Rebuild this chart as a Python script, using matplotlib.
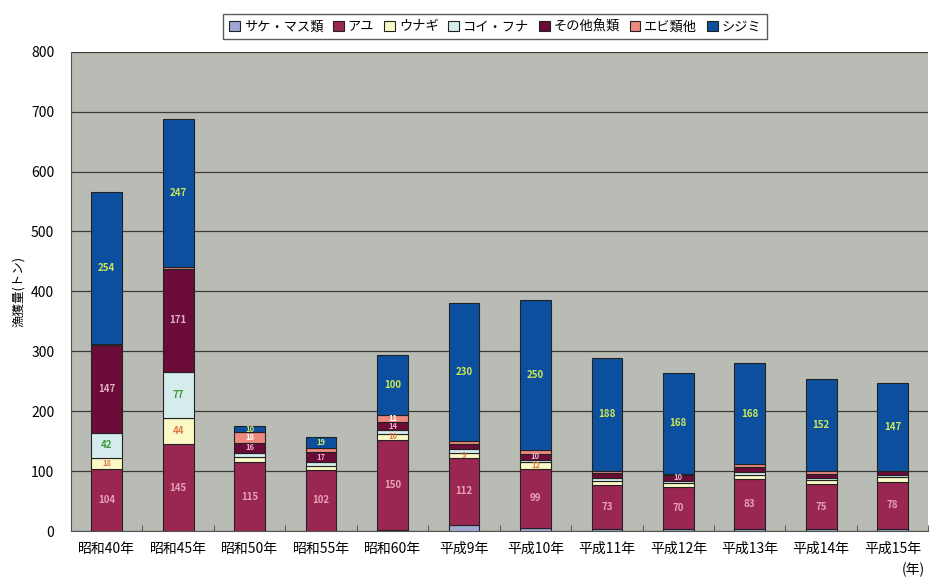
import numpy as np
import matplotlib
matplotlib.use("Agg")
import matplotlib.pyplot as plt

plt.rcParams['font.family'] = ['Noto Sans CJK JP', 'DejaVu Sans']

years = ['昭和40年', '昭和45年', '昭和50年', '昭和55年', '昭和60年', '平成9年',
         '平成10年', '平成11年', '平成12年', '平成13年', '平成14年', '平成15年']

sake = [0, 0, 0, 0, 2, 10, 5, 4, 3, 4, 3, 4]
ayu = [104, 145, 115, 102, 150, 112, 99, 73, 70, 83, 75, 78]
unagi = [18, 44, 8, 7, 10, 9, 12, 7, 8, 7, 7, 8]
koi = [42, 77, 8, 6, 6, 6, 3, 5, 3, 5, 4, 4]
sonota = [147, 171, 16, 17, 14, 8, 10, 8, 10, 8, 7, 6]
ebi = [1, 4, 18, 6, 11, 6, 6, 4, 2, 5, 5, 0]
shijimi = [254, 247, 10, 19, 100, 230, 250, 188, 168, 168, 152, 147]

names = ['サケ・マス類', 'アユ', 'ウナギ', 'コイ・フナ', 'その他魚類', 'エビ類他', 'シジミ']
series = [sake, ayu, unagi, koi, sonota, ebi, shijimi]
colors = ['#9ea8d2', '#9a2752', '#fbf9c6', '#d5ecec', '#6a0b38', '#ec8a80', '#0c4f9e']
label_colors = [None, '#e8a0b8', '#e07848', '#3f9a3a', '#e4b0c8', '#ffffff', '#cde85a']


def plot_chart():
    fig = plt.figure(figsize=(9.34, 5.81), dpi=100)
    ax = fig.add_axes([0.076, 0.086, 0.918, 0.825])
    ax.set_facecolor('#b9bcb5')

    x = np.arange(len(years))
    bottom = np.zeros(len(years))
    for name, vals, col, lc in zip(names, series, colors, label_colors):
        vals = np.array(vals, dtype=float)
        ax.bar(x, vals, 0.43, bottom=bottom, color=col, edgecolor='#222222',
               linewidth=0.8, label=name, zorder=3)
        if lc is not None:
            for xi, b, v in zip(x, bottom, vals):
                if v >= 9:
                    fs = 7 if v >= 20 else 5.5
                    ax.text(xi, b + v / 2, '%d' % v, ha='center', va='center',
                            fontsize=fs, color=lc, fontweight='bold', zorder=4)
        bottom += vals

    ax.set_xlim(-0.5, len(years) - 0.5)
    ax.set_ylim(0, 800)
    ax.set_yticks(range(0, 801, 100))
    ax.yaxis.grid(True, color='#3a3a3a', linewidth=0.9, zorder=1)
    ax.set_xticks(x)
    ax.set_xticklabels(years, fontsize=10)
    ax.set_xticks(np.arange(-0.5, len(years)), minor=True)
    ax.tick_params(axis='x', which='major', length=0, pad=8)
    ax.tick_params(axis='x', which='minor', length=4, direction='in', color='#444444')
    ax.tick_params(axis='y', length=0, labelsize=10, pad=12)
    for s in ['top', 'right']:
        ax.spines[s].set_visible(False)
    ax.spines['left'].set_color('#555555')
    ax.spines['bottom'].set_color('#555555')

    ax.set_ylabel('漁獲量(トン)', fontsize=9, labelpad=4)
    fig.text(0.978, 0.012, '(年)', fontsize=10, ha='center')

    leg = ax.legend(loc='lower center', bbox_to_anchor=(0.495, 1.012), ncol=7,
                    fontsize=9.5, frameon=True, fancybox=False, edgecolor='#333333',
                    handlelength=0.8, handleheight=0.8, handletextpad=0.3,
                    columnspacing=0.75, borderpad=0.45)
    leg.get_frame().set_linewidth(1.0)

    fig.savefig('out.png', dpi=100)


def main():
    plot_chart()


if __name__ == "__main__":
    main()
